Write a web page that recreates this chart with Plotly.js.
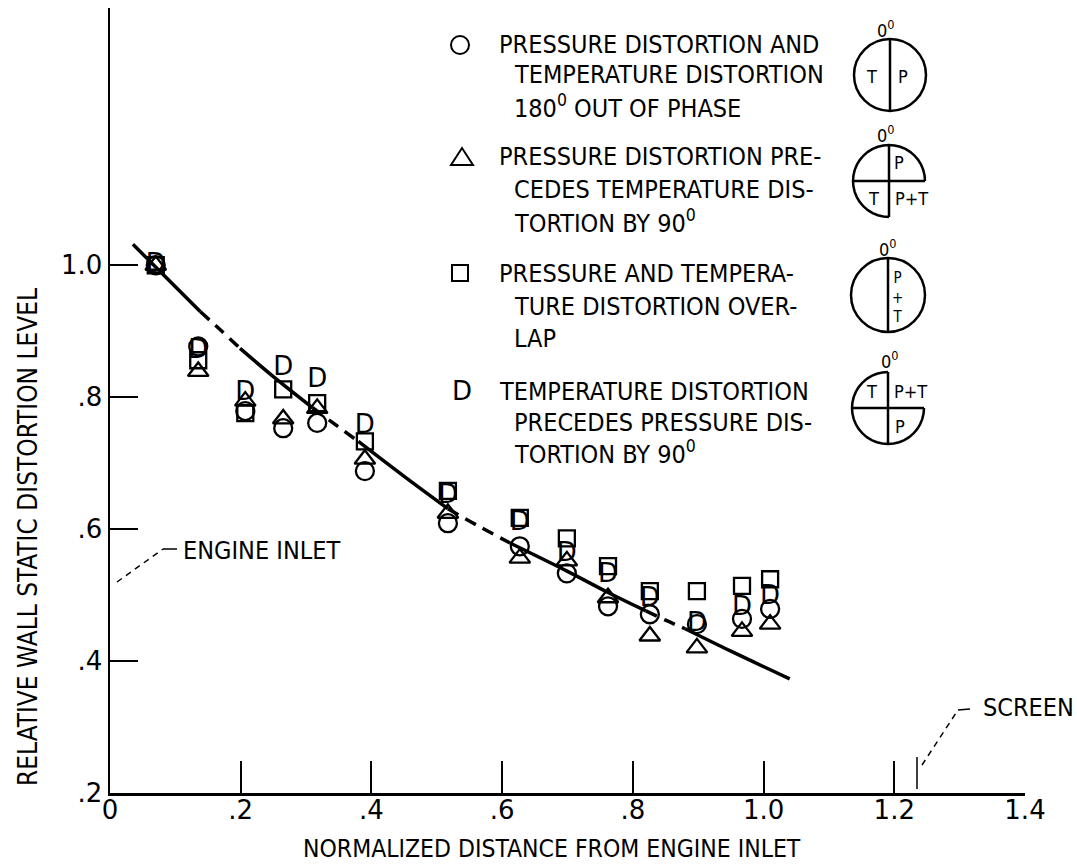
<!DOCTYPE html>
<html><head><meta charset="utf-8">
<script src="https://cdn.plot.ly/plotly-3.0.1.min.js"></script>
<style>html,body{margin:0;padding:0;background:#fff}#chart{width:1077px;height:866px}</style>
</head><body><div id="chart"></div>
<script>
// ---- data ----
const stations = [0.07, 0.135, 0.207, 0.265, 0.317, 0.39, 0.517, 0.627, 0.699, 0.762, 0.826, 0.898, 0.967, 1.01];
const outOfPhase    = [1.0, 0.877, 0.779, 0.753, 0.761, 0.688, 0.609, 0.574, 0.533, 0.483, 0.471, 0.456, 0.464, 0.479];
const pressureLeads = [1.0, 0.839, 0.794, 0.767, 0.783, 0.706, 0.624, 0.556, 0.552, 0.496, 0.438, 0.420, 0.445, 0.456];
const overlap       = [1.0, 0.856, 0.776, 0.812, 0.791, 0.733, 0.658, 0.617, 0.586, 0.544, 0.506, 0.506, 0.514, 0.524];
const tempLeads     = [1.0, 0.870, 0.806, 0.844, 0.826, 0.756, 0.650, 0.608, 0.562, 0.529, 0.494, 0.456, 0.479, 0.496];
// faired curve knots
const fairedX = [0.035, 0.069, 0.138, 0.170, 0.199, 0.249, 0.31, 0.337, 0.38, 0.45, 0.517, 0.565, 0.612, 0.70, 0.762, 0.82, 0.85, 0.88, 0.95, 1.04];
const fairedY = [1.032, 0.998, 0.930, 0.901, 0.874, 0.832, 0.784, 0.764, 0.733, 0.680, 0.631, 0.604, 0.579, 0.536, 0.504, 0.476, 0.462, 0.449, 0.415, 0.373];
const xTickVals = [0, 0.2, 0.4, 0.6, 0.8, 1.0, 1.2, 1.4];
const xTickText = ['0', '.2', '.4', '.6', '.8', '1.0', '1.2', '1.4'];
const yTickVals = [0.2, 0.4, 0.6, 0.8, 1.0];
const yTickText = ['.2', '.4', '.6', '.8', '1.0'];

// ---- styling ----
const TXT = 'Liberation Sans Narrow, DejaVu Sans Condensed, Arial Narrow, sans-serif';
const NUM = 'DejaVu Sans, sans-serif';
const L = 110, R = 1025, T = 8, B = 793;
const px = x => (x - L) / (R - L);
const py = y => (B - y) / (B - T);

// faired curve in runs: [startIndex, endIndex, dash]
const runs = [[0,2,'solid'],[2,4,'dash'],[4,6,'solid'],[6,8,'dash'],[8,10,'solid'],[10,12,'dash'],[12,15,'solid'],[15,17,'dash'],[17,19,'solid']];
const traces = runs.map(([a,b,d]) => ({
  type: 'scatter', mode: 'lines', hoverinfo: 'skip',
  x: fairedX.slice(a, b + 1), y: fairedY.slice(a, b + 1),
  line: {color: '#000', width: 3.5, shape: 'spline', dash: d === 'dash' ? '12px,8px' : 'solid'}
}));
const mk = (sym, size) => ({symbol: sym, size: size, color: '#000', line: {color: '#000', width: 2.3}});
traces.push({type:'scatter', mode:'markers', x: stations, y: overlap, marker: mk('square-open', 16), hoverinfo:'skip'});
traces.push({type:'scatter', mode:'markers', x: stations, y: pressureLeads, marker: mk('triangle-up-open', 18), hoverinfo:'skip'});
traces.push({type:'scatter', mode:'markers', x: stations, y: outOfPhase, marker: mk('circle-open', 18), hoverinfo:'skip'});
traces.push({type:'scatter', mode:'text', x: stations, y: tempLeads, text: stations.map(() => 'D'),
  textposition: 'middle center', textfont: {family: NUM, size: 26, color: '#000'}, hoverinfo:'skip'});

// ---- annotations ----
const ann = [];
function txt(text, x, y, size, opts) {
  ann.push(Object.assign({xref:'paper', yref:'paper', x: px(x), y: py(y), text: text, showarrow: false,
    xanchor: 'left', yanchor: 'middle', font: {family: TXT, size: size, color: '#000'}}, opts || {}));
}
// legend text
const legendLines = [
  ['PRESSURE DISTORTION AND', 497, 45], ['TEMPERATURE DISTORTION', 512, 75], ['180<sup>0</sup> OUT OF PHASE', 512, 107],
  ['PRESSURE DISTORTION PRE-', 497, 157], ['CEDES TEMPERATURE DIS-', 512, 190], ['TORTION BY 90<sup>0</sup>', 512, 221],
  ['PRESSURE AND TEMPERA-', 497, 273], ['TURE DISTORTION OVER-', 512, 306], ['LAP', 512, 338],
  ['TEMPERATURE DISTORTION', 497, 391], ['PRECEDES PRESSURE DIS-', 512, 422], ['TORTION BY 90<sup>0</sup>', 512, 452]
];
legendLines.forEach(([t, x, y]) => txt(t, x, y, 25));
txt('D', 462, 391, 26, {xanchor: 'center', font: {family: NUM, size: 26, color: '#000'}});
// axis titles
txt('NORMALIZED DISTANCE FROM ENGINE INLET', 552, 848, 24.5, {xanchor: 'center'});
txt('RELATIVE WALL STATIC DISTORTION LEVEL', 28, 537, 26, {xanchor: 'center', textangle: -90});
// callouts
txt('ENGINE INLET', 181, 550, 25);
txt('SCREEN', 981, 707, 25);

// ---- shapes ----
const shp = [];
const line = (x0, y0, x1, y1, w, dash) => shp.push({type:'line', xref:'paper', yref:'paper',
  x0: px(x0), y0: py(y0), x1: px(x1), y1: py(y1), line: {color:'#000', width: w, dash: dash || 'solid'}});
const circ = (cx, cy, r, w) => shp.push({type:'circle', xref:'paper', yref:'paper',
  x0: px(cx - r), x1: px(cx + r), y0: py(cy + r), y1: py(cy - r), line: {color:'#000', width: w}});
function arc(cx, cy, r, a0, a1, w) {
  let s = '';
  for (let i = 0; i <= 30; i++) {
    const a = (a0 + (a1 - a0) * i / 30) * Math.PI / 180;
    s += (i ? 'L' : 'M') + px(cx + r * Math.cos(a)).toFixed(5) + ',' + py(cy - r * Math.sin(a)).toFixed(5);
  }
  shp.push({type:'path', xref:'paper', yref:'paper', path: s, line: {color:'#000', width: w}});
}
// engine inlet leader
line(117, 582, 163, 549, 1.5, '6px,5px');
line(163, 549, 177, 549, 1.5);
// screen marker and leader
line(917, 757, 917, 789, 1.5);
line(922, 765, 958, 710, 1.5, '6px,5px');
line(958, 710, 970, 709, 1.5);
// legend keys
circ(460, 45, 9, 2);
shp.push({type:'path', xref:'paper', yref:'paper', line:{color:'#000', width:2},
  path: 'M' + px(451) + ',' + py(165) + 'L' + px(473) + ',' + py(165) + 'L' + px(462) + ',' + py(148) + 'Z'});
shp.push({type:'rect', xref:'paper', yref:'paper', line:{color:'#000', width:2},
  x0: px(452), x1: px(468), y0: py(281), y1: py(265)});
// phase diagrams
const DW = 2.5;
circ(890, 75, 36, DW); line(890, 39, 890, 111, DW);
arc(889, 181, 36, 0, 270, DW); line(889, 145, 889, 217, DW); line(853, 181, 925, 181, DW);
circ(888, 295, 37, DW); line(888, 258, 888, 332, DW);
arc(888, 408, 36, 90, 360, DW); line(888, 372, 888, 444, DW); line(852, 408, 924, 408, DW);
const small = (t, x, y, s) => txt(t, x, y, s || 18, {xanchor: 'center'});
small('0<sup>0</sup>', 886, 29); small('T', 871, 77); small('P', 903, 77);
small('0<sup>0</sup>', 886, 134); small('P', 899, 163); small('T', 873, 199); small('P+T', 911, 199);
small('0<sup>0</sup>', 888, 248); small('P<br>+<br>T', 897, 297, 15);
small('0<sup>0</sup>', 890, 360); small('T', 871, 391); small('P+T', 910, 391); small('P', 900, 426);

const layout = {
  width: 1077, height: 866,
  margin: {l: L, r: 1077 - R, t: T, b: 866 - B, pad: 0},
  paper_bgcolor: '#fff', plot_bgcolor: '#fff', showlegend: false,
  font: {family: TXT, color: '#000'},
  xaxis: {range: [0, 1.4], tickvals: xTickVals, ticktext: xTickText, ticks: 'inside', ticklen: 32, tickwidth: 2,
    tickcolor: '#000', showline: true, linecolor: '#000', linewidth: 2.5, showgrid: false, zeroline: false,
    tickfont: {family: NUM, size: 26, color: '#000'}, ticklabelstandoff: -8, fixedrange: true},
  yaxis: {range: [0.2, 1.39], tickvals: yTickVals, ticktext: yTickText, ticks: 'inside', ticklen: 28, tickwidth: 2,
    tickcolor: '#000', showline: true, linecolor: '#000', linewidth: 2.5, showgrid: false, zeroline: false,
    tickfont: {family: NUM, size: 26, color: '#000'}, ticklabelstandoff: 0, fixedrange: true},
  annotations: ann, shapes: shp
};
Plotly.newPlot('chart', traces, layout, {displayModeBar: false, staticPlot: true});
</script></body></html>
